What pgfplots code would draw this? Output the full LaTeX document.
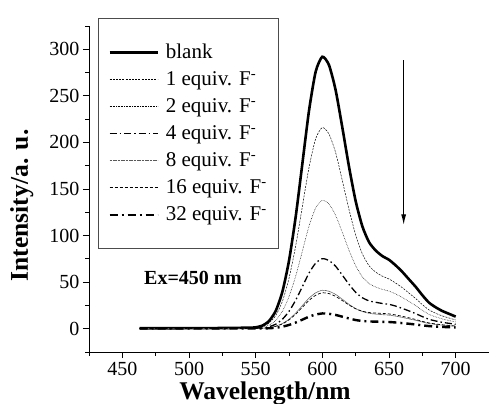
\documentclass[border=0pt]{standalone}
\usepackage{pgfplots}
\pgfplotsset{compat=1.18}
\usepackage{fontspec}
\setmainfont{Liberation Serif}
\usetikzlibrary{arrows.meta}
\begin{document}
\begin{tikzpicture}
\useasboundingbox (-89bp,-52bp) rectangle (400bp,352bp);
\begin{axis}[
  at={(0,0)}, anchor=south west,
  scale only axis, width=400bp, height=326bp,
  xmin=425, xmax=725, ymin=-25, ymax=325,
  axis x line*=bottom, axis y line*=left,
  axis line style={line width=0.8bp},
  xtick={450,500,...,700}, ytick={0,50,...,300},
  minor xtick={425,475,...,725}, minor ytick={-25,25,...,325},
  tick align=outside, major tick length=6bp, minor tick length=3.5bp,
  tick style={line width=0.8bp, black},
  /pgf/number format/assume math mode=true,
  ticklabel style={font=\fontsize{20bp}{22bp}\selectfont},
  xticklabel style={yshift=-2.5bp, inner sep=1bp},
  xlabel={Wavelength/nm}, ylabel={Intensity/a. u.},
  label style={font=\fontsize{25.5bp}{27bp}\selectfont\bfseries, inner sep=0pt},
  xlabel style={at={(axis description cs:0.44,-0.146)}, anchor=base},
  ylabel style={at={(axis description cs:-0.168,0.45)}, anchor=center},
  legend style={at={(axis description cs:0.0225,1.0245)}, anchor=north west,
    draw=black!70, line width=0.6bp, inner xsep=10bp, inner ysep=24bp,
    row sep=7.6bp, font=\fontsize{21bp}{23bp}\selectfont,
    nodes={inner sep=2bp},
    /tikz/every odd column/.append style={column sep=5bp}},
  legend cell align=left,
  legend image code/.code={\draw[#1] (0bp,0bp) -- (48bp,0bp);},
  every axis plot/.append style={smooth, tension=0.4, mark=none},
]
% blank
\addplot[black, line width=2.6bp] coordinates {
(463,0.5)(470,0.5)(480,0.5)(490,0.5)(500,0.6)(510,0.6)(520,0.7)(530,0.8)(540,1.0)(545,1.0)
(550,1.5)(555,3.3)(560,8.3)(565,19)(570,39.5)(575,73)(580,120)(585,177)(590,234)(595,276)(600,292)
(605,283)(610,256)(615,216)(620,174)(625,137)(630,110)(635,93)(640,84)(645,78)(650,74)
(655,68)(660,61)(665,53)(670,45)(675,36)(680,28)(685,23)(690,19)(695,16)(700,13)};
\addlegendentry{blank}
% 1 equiv
\addplot[black, line width=0.5bp, dash pattern=on 2bp off 1.2bp] coordinates {
(463,0.4)(470,0.4)(480,0.4)(490,0.4)(500,0.5)(510,0.5)(520,0.5)(530,0.6)(540,0.7)(545,0.8)
(550,1.1)(555,2.4)(560,6.1)(565,14.1)(570,29.2)(575,54)(580,88.8)(585,131)(590,173)(595,204)(600,216)
(605,209)(610,189)(615,159)(620,128)(625,100.6)(630,80.4)(635,67.7)(640,60.8)(645,56.4)(650,53.4)
(655,49)(660,44)(665,38.2)(670,32.4)(675,25.9)(680,20.2)(685,16.6)(690,13.7)(695,11.5)(700,9.4)};
\addlegendentry{1 equiv. F\textsuperscript{-}}
% 2 equiv
\addplot[black, line width=0.5bp, dash pattern=on 0.6bp off 1bp] coordinates {
(463,0.3)(470,0.3)(480,0.3)(490,0.3)(500,0.4)(510,0.4)(520,0.4)(530,0.5)(540,0.5)(545,0.6)
(550,0.7)(555,1.6)(560,3.9)(565,8.9)(570,18.6)(575,34.3)(580,56.4)(585,83.2)(590,110)(595,129.7)(600,137.9)
(605,133.8)(610,121.6)(615,103.4)(620,84.2)(625,67.6)(630,55.7)(635,48.5)(640,44.8)(645,42.2)(650,40.4)
(655,37.3)(660,33.5)(665,29.2)(670,24.8)(675,19.8)(680,15.4)(685,12.7)(690,10.5)(695,8.8)(700,7.2)};
\addlegendentry{2 equiv. F\textsuperscript{-}}
% 4 equiv
\addplot[black, line width=1.3bp, dash pattern=on 7bp off 3bp on 1.5bp off 3bp] coordinates {
(463,0.3)(470,0.3)(480,0.3)(490,0.3)(500,0.3)(510,0.3)(520,0.3)(530,0.4)(540,0.4)(545,0.4)
(550,0.4)(555,0.8)(560,2.1)(565,4.8)(570,10.1)(575,18.6)(580,30.6)(585,45.1)(590,59.7)(595,70.4)(600,75.2)
(605,73.2)(610,67)(615,57.5)(620,47.7)(625,39.1)(630,33.3)(635,29.9)(640,28.4)(645,27.1)(650,26.2)
(655,24.3)(660,21.8)(665,19.1)(670,16.2)(675,13)(680,10.1)(685,8.3)(690,6.8)(695,5.8)(700,4.7)};
\addlegendentry{4 equiv. F\textsuperscript{-}}
% 8 equiv
\addplot[black!65, line width=0.6bp, dash pattern=on 1.2bp off 0.4bp] coordinates {
(463,0.2)(470,0.2)(480,0.2)(490,0.2)(500,0.2)(510,0.2)(520,0.2)(530,0.2)(540,0.3)(545,0.3)
(550,0.3)(555,0.5)(560,1.2)(565,2.7)(570,5.5)(575,10.2)(580,16.8)(585,24.8)(590,32.8)(595,38.6)(600,41.3)
(605,40.2)(610,36.8)(615,31.6)(620,26.2)(625,21.6)(630,18.4)(635,16.6)(640,15.7)(645,15.1)(650,14.6)
(655,13.5)(660,12.1)(665,10.6)(670,9)(675,7.2)(680,5.6)(685,4.6)(690,3.8)(695,3.2)(700,2.6)};
\addlegendentry{8 equiv. F\textsuperscript{-}}
% 16 equiv
\addplot[black, line width=0.7bp, dash pattern=on 3bp off 2bp] coordinates {
(463,0.2)(470,0.2)(480,0.2)(490,0.2)(500,0.2)(510,0.2)(520,0.2)(530,0.2)(540,0.3)(545,0.3)
(550,0.3)(555,0.4)(560,1.1)(565,2.5)(570,5.1)(575,9.5)(580,15.6)(585,23)(590,30.4)(595,35.9)(600,38.6)
(605,37.7)(610,34.7)(615,30.2)(620,25.4)(625,21.4)(630,18.8)(635,17.4)(640,16.8)(645,16.4)(650,15.9)
(655,14.8)(660,13.3)(665,11.7)(670,9.9)(675,7.9)(680,6.2)(685,5.1)(690,4.2)(695,3.5)(700,2.9)};
\addlegendentry{16 equiv. F\textsuperscript{-}}
% 32 equiv
\addplot[black, line width=2.4bp, dash pattern=on 8bp off 4bp on 2bp off 4bp] coordinates {
(463,0.2)(470,0.2)(480,0.2)(490,0.2)(500,0.2)(510,0.2)(520,0.2)(530,0.2)(540,0.2)(545,0.2)
(550,0.2)(555,0.2)(560,0.5)(565,1)(570,2.2)(575,4)(580,6.6)(585,9.7)(590,12.9)(595,15.2)(600,16.4)
(605,16)(610,14.8)(615,12.9)(620,11)(625,9.3)(630,8.3)(635,7.8)(640,7.6)(645,7.4)(650,7.2)
(655,6.7)(660,6)(665,5.3)(670,4.5)(675,3.6)(680,2.8)(685,2.3)(690,1.9)(695,1.6)(700,1.3)};
\addlegendentry{32 equiv. F\textsuperscript{-}}
\draw[line width=1.3bp, -{Latex[length=11bp,width=5bp]}] (axis cs:661,288) -- (axis cs:661,111);
\node[font=\fontsize{20bp}{22bp}\selectfont\bfseries] at (axis cs:503,54) {Ex=450 nm};
\end{axis}
\end{tikzpicture}
\end{document}
